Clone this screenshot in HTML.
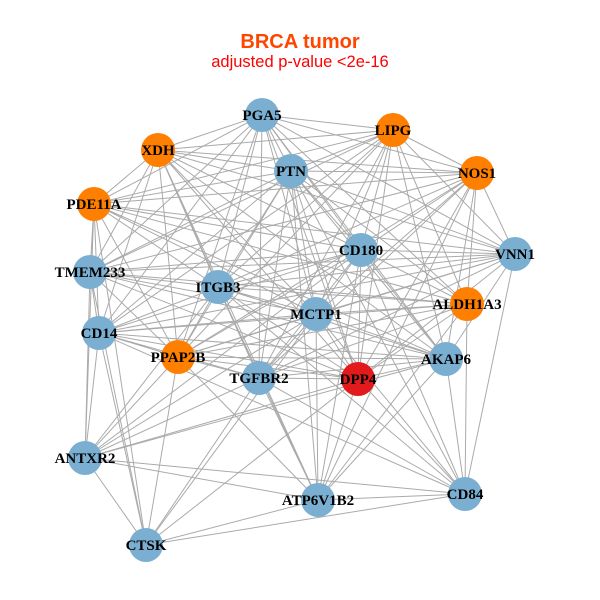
<!DOCTYPE html>
<html><head><meta charset="utf-8"><style>html,body{margin:0;padding:0;background:#fff}svg{display:block}</style></head>
<body>
<svg width="600" height="600" xmlns="http://www.w3.org/2000/svg">
<rect width="600" height="600" fill="#fff"/>
<text x="300" y="48" text-anchor="middle" font-family="Liberation Sans, sans-serif" font-weight="bold" font-size="20" fill="#ff4500">BRCA tumor</text>
<text x="300" y="67" text-anchor="middle" font-family="Liberation Sans, sans-serif" font-size="16.5" fill="#ff0000">adjusted p-value &lt;2e-16</text>
<g stroke="#aaaaaa" stroke-width="1" fill="none">
<path d="M262 115L393 130M262 115L158 150M262 115L291 171M262 115L477 173M262 115L94 204M262 115L361 250M262 115L90 272M262 115L218 287M262 115L467 304M262 115L316 314M262 115L99 333M262 115L178 357M262 115L446 359M262 115L259 378M262 115L358 379M262 115L515 254"/>
<path d="M393 130L158 150M393 130L291 171M393 130L477 173M393 130L94 204M393 130L361 250M393 130L515 254M393 130L90 272M393 130L218 287M393 130L316 314M393 130L99 333M393 130L178 357M393 130L446 359M393 130L259 378M393 130L358 379M393 130L467 304"/>
<path d="M158 150L291 171M158 150L477 173M158 150L94 204M158 150L361 250M158 150L515 254M158 150L218 287M158 150L316 314M158 150L178 357M158 150L446 359M158 150L259 378M158 150L358 379M158 150L318 500M158 150L99 333M158 150L90 272"/>
<path d="M291 171L477 173M291 171L94 204M291 171L361 250M291 171L515 254M291 171L90 272M291 171L218 287M291 171L467 304M291 171L316 314M291 171L99 333M291 171L178 357M291 171L446 359M291 171L259 378M291 171L358 379M291 171L465 494M291 171L318 500"/>
<path d="M477 173L94 204M477 173L361 250M477 173L90 272M477 173L218 287M477 173L316 314M477 173L178 357M477 173L446 359M477 173L259 378M477 173L358 379M477 173L318 500M477 173L515 254M477 173L467 304"/>
<path d="M94 204L361 250M94 204L515 254M94 204L90 272M94 204L218 287M94 204L467 304M94 204L316 314M94 204L99 333M94 204L178 357M94 204L446 359M94 204L146 545M94 204L85 458"/>
<path d="M361 250L515 254M361 250L90 272M361 250L218 287M361 250L467 304M361 250L316 314M361 250L99 333M361 250L178 357M361 250L446 359M361 250L259 378M361 250L358 379M361 250L85 458M361 250L465 494M361 250L318 500"/>
<path d="M515 254L90 272M515 254L218 287M515 254L316 314M515 254L99 333M515 254L178 357M515 254L446 359M515 254L259 378M515 254L358 379M515 254L465 494"/>
<path d="M90 272L218 287M90 272L467 304M90 272L316 314M90 272L99 333M90 272L178 357M90 272L446 359M90 272L358 379M90 272L85 458M90 272L146 545"/>
<path d="M218 287L467 304M218 287L316 314M218 287L99 333M218 287L178 357M218 287L446 359M218 287L259 378M218 287L358 379M218 287L465 494M218 287L318 500M218 287L85 458"/>
<path d="M467 304L316 314M467 304L99 333M467 304L178 357M467 304L259 378M467 304L358 379M467 304L318 500M467 304L465 494"/>
<path d="M316 314L99 333M316 314L178 357M316 314L446 359M316 314L259 378M316 314L358 379M316 314L465 494M316 314L318 500M316 314L85 458M316 314L146 545"/>
<path d="M99 333L178 357M99 333L446 359M99 333L259 378M99 333L358 379M99 333L85 458M99 333L146 545M99 333L465 494"/>
<path d="M178 357L446 359M178 357L259 378M178 357L358 379M178 357L318 500M178 357L85 458M178 357L146 545"/>
<path d="M446 359L259 378M446 359L358 379M446 359L85 458M446 359L465 494M446 359L318 500"/>
<path d="M259 378L358 379M259 378L85 458M259 378L465 494M259 378L318 500M259 378L146 545"/>
<path d="M358 379L85 458M358 379L465 494M358 379L318 500M358 379L146 545"/>
<path d="M85 458L465 494M85 458L318 500M85 458L146 545"/>
<path d="M465 494L318 500M465 494L146 545M318 500L146 545"/>
</g>
<g>
<circle cx="262" cy="115" r="17" fill="#7bafd2"/>
<circle cx="393" cy="130" r="17" fill="#ff7f00"/>
<circle cx="158" cy="150" r="17" fill="#ff7f00"/>
<circle cx="291" cy="171" r="17" fill="#7bafd2"/>
<circle cx="477" cy="173" r="17" fill="#ff7f00"/>
<circle cx="94" cy="204" r="17" fill="#ff7f00"/>
<circle cx="361" cy="250" r="17" fill="#7bafd2"/>
<circle cx="515" cy="254" r="17" fill="#7bafd2"/>
<circle cx="90" cy="272" r="17" fill="#7bafd2"/>
<circle cx="218" cy="287" r="17" fill="#7bafd2"/>
<circle cx="467" cy="304" r="17" fill="#ff7f00"/>
<circle cx="316" cy="314" r="17" fill="#7bafd2"/>
<circle cx="99" cy="333" r="17" fill="#7bafd2"/>
<circle cx="178" cy="357" r="17" fill="#ff7f00"/>
<circle cx="446" cy="359" r="17" fill="#7bafd2"/>
<circle cx="259" cy="378" r="17" fill="#7bafd2"/>
<circle cx="358" cy="379" r="17" fill="#e31a1c"/>
<circle cx="85" cy="458" r="17" fill="#7bafd2"/>
<circle cx="465" cy="494" r="17" fill="#7bafd2"/>
<circle cx="318" cy="500" r="17" fill="#7bafd2"/>
<circle cx="146" cy="545" r="17" fill="#7bafd2"/>
</g>
<g font-family="Liberation Serif, serif" font-weight="bold" font-size="15" fill="#000" text-anchor="middle">
<text x="262" y="120">PGA5</text>
<text x="393" y="135">LIPG</text>
<text x="158" y="155">XDH</text>
<text x="291" y="176">PTN</text>
<text x="477" y="178">NOS1</text>
<text x="94" y="209">PDE11A</text>
<text x="361" y="255">CD180</text>
<text x="515" y="259">VNN1</text>
<text x="90" y="277">TMEM233</text>
<text x="218" y="292">ITGB3</text>
<text x="467" y="309">ALDH1A3</text>
<text x="316" y="319">MCTP1</text>
<text x="99" y="338">CD14</text>
<text x="178" y="362">PPAP2B</text>
<text x="446" y="364">AKAP6</text>
<text x="259" y="383">TGFBR2</text>
<text x="358" y="384">DPP4</text>
<text x="85" y="463">ANTXR2</text>
<text x="465" y="499">CD84</text>
<text x="318" y="505">ATP6V1B2</text>
<text x="146" y="550">CTSK</text>
</g>
</svg>
</body></html>
